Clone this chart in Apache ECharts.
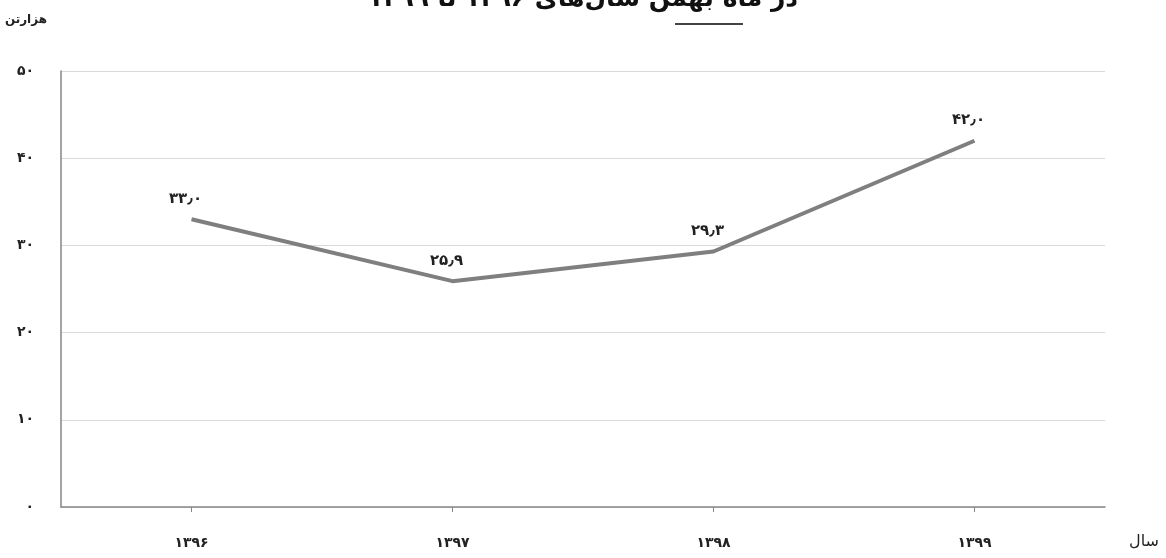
<!DOCTYPE html>
<html><head><meta charset="utf-8">
<script src="https://cdn.jsdelivr.net/npm/echarts@6/dist/echarts.min.js"></script>
<style>html,body{margin:0;padding:0;background:#fff}#c{width:1166px;height:558px}</style>
</head><body><div id="c"></div>
<script>
const titleText = 'در ماه بهمن سال‌های ۱۳۹۶ تا ۱۳۹۹';
const yAxisName = 'هزارتن';
const xAxisName = 'سال';
const categories = ['۱۳۹۶', '۱۳۹۷', '۱۳۹۸', '۱۳۹۹'];
const values = [33.0, 25.9, 29.3, 42.0];
const yTickValues = [0, 10, 20, 30, 40, 50];

const fa = s => String(s).replace(/[0-9]/g, d => '۰۱۲۳۴۵۶۷۸۹'[d]);
const fmt = v => fa(v.toFixed(1)).replace('.', '٫');
const font = '"DejaVu Sans", "Noto Sans", sans-serif';

const chart = echarts.init(document.getElementById('c'), null, {renderer: 'canvas'});
chart.setOption({
  animation: false,
  title: {
    text: titleText, left: 'center', top: -18,
    textStyle: {fontFamily: font, fontSize: 25, fontWeight: 'bold', color: '#111'}
  },
  grid: {left: 61, right: 61, top: 71, bottom: 51, containLabel: false, outerBoundsMode: 'none'},
  xAxis: {
    type: 'category', data: categories, boundaryGap: true,
    name: xAxisName, nameLocation: 'end', nameGap: 24,
    nameTextStyle: {fontFamily: font, fontSize: 16, color: '#222', verticalAlign: 'top', padding: [27, 0, 0, 0]},
    axisLine: {lineStyle: {color: '#868686', width: 1.5}},
    axisTick: {show: true, alignWithLabel: true, length: 5, lineStyle: {color: '#868686'}},
    axisLabel: {margin: 29, fontFamily: font, fontSize: 14, fontWeight: 'bold', color: '#222'},
    splitLine: {show: false}
  },
  yAxis: {
    type: 'value', min: yTickValues[0], max: yTickValues[yTickValues.length - 1], interval: 10,
    name: yAxisName, nameLocation: 'end', nameGap: 45,
    nameTextStyle: {fontFamily: font, fontSize: 12, fontWeight: 'bold', color: '#222', align: 'right', padding: [0, 14, 0, 0]},
    axisLine: {show: true, lineStyle: {color: '#868686', width: 1.5}},
    axisTick: {show: false},
    axisLabel: {margin: 27, fontFamily: font, fontSize: 14, fontWeight: 'bold', color: '#222', formatter: v => fa(v)},
    splitLine: {show: true, lineStyle: {color: '#d9d9d9', width: 1}}
  },
  graphic: [{
    type: 'line', shape: {x1: 675, y1: 24, x2: 743, y2: 24},
    style: {stroke: '#444', lineWidth: 2}, silent: true
  }],
  series: [{
    type: 'line', data: values, symbol: 'circle', symbolSize: 0, showSymbol: true,
    itemStyle: {color: '#7f7f7f'},
    lineStyle: {color: '#7f7f7f', width: 4},
    label: {
      show: true, position: 'top', distance: 13, offset: [-6, 0],
      fontFamily: font, fontSize: 15, fontWeight: 'bold', color: '#222',
      formatter: p => fmt(p.value)
    }
  }]
});
</script></body></html>
